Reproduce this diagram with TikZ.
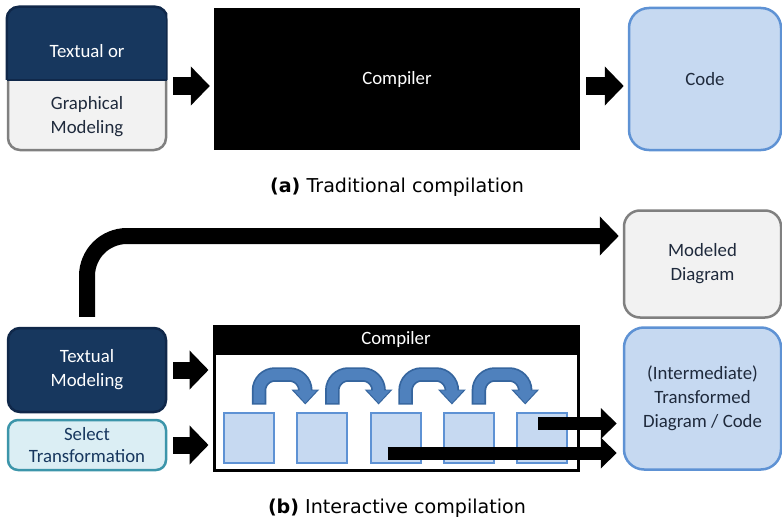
\documentclass[tikz,border=0pt]{standalone}
\usepackage{fontspec}
\setmainfont{Carlito}
\newfontfamily\capfont{DejaVu Sans}
\usetikzlibrary{arrows.meta,positioning}
\definecolor{parNavy}{HTML}{17375E}
\definecolor{parNavyEdge}{HTML}{10284A}
\definecolor{parGrey}{HTML}{F2F2F2}
\definecolor{parGreyEdge}{HTML}{808080}
\definecolor{parSky}{HTML}{C6D9F1}
\definecolor{parSkyEdge}{HTML}{5E92D4}
\definecolor{parIce}{HTML}{DBEEF4}
\definecolor{parIceEdge}{HTML}{3C95AA}
\definecolor{parSteel}{HTML}{4F81BD}
\definecolor{parSteelEdge}{HTML}{35659E}
\definecolor{parInk}{HTML}{1F2A3C}

\begin{document}
\begin{tikzpicture}[x=1pt,y=-1pt,
    every node/.style={font=\fontsize{18.8}{24}\selectfont,align=center,inner sep=0pt},
    box/.style={rounded corners=#1,line width=2.5pt},
    stage/.style={fill=parSky,draw=parSkyEdge,line width=2pt,minimum size=50pt},
    blockarrow/.style={line width=17pt,-{Triangle[length=19pt,width=38pt]},shorten <=6pt,shorten >=4pt},
    outarrow/.style={line width=13pt,-{Triangle[length=16pt,width=30pt]},shorten >=6pt},
    hopedge/.style={parSteelEdge,line width=14.5pt,rounded corners=16pt,-{Triangle[length=15pt,width=27pt]}},
    hop/.style={parSteel,line width=11pt,rounded corners=16pt,-{Triangle[length=12.5pt,width=22pt]},shorten >=1.6pt,shorten <=1.3pt},
    caption/.style={font=\capfont\fontsize{19.1}{23}\selectfont}]
  \useasboundingbox (0,0) rectangle (782,519);

  \node[box=12pt,fill=parGrey,draw=parGreyEdge,minimum width=158pt,minimum height=142pt] (model) at (87,79) {};
  \coordinate (split) at (0,80);
  \begin{scope}
    \clip ([xshift=-3pt,yshift=3pt]model.north west) rectangle (model.east |- split);
    \draw[box=12pt,fill=parNavy,draw=parNavyEdge] (model.south west) rectangle (model.north east);
  \end{scope}
  \draw[parNavyEdge,line width=1.5pt] (model.west |- split) -- (model.east |- split);
  \node[text=white] (modelA) at (87,51) {Textual or};
  \node[text=parInk] (modelB) at (87,117) {Graphical\\Modeling};
  \node[fill=black,text=white,minimum width=366pt,minimum height=142pt] (comp) at (397,79) {Compiler};
  \node[box=20pt,fill=parSky,draw=parSkyEdge,minimum width=152pt,minimum height=142pt,text=parInk] (code) at (705,79) {Code};
  \draw[blockarrow] ([yshift=-7pt]model.east) -- ([yshift=-7pt]comp.west);
  \draw[blockarrow] ([yshift=-7pt]comp.east) -- ([yshift=-7pt]code.west);
  \node[caption] (capA) at (397,187) {\textbf{(a)} Traditional compilation};

  \node[box=16pt,fill=parGrey,draw=parGreyEdge,minimum width=157pt,minimum height=107pt,text=parInk] (modeled) at (702.5,264) {Modeled\\Diagram};
  \node[box=12pt,fill=parNavy,draw=parNavyEdge,minimum width=158pt,minimum height=84pt,text=white] (tm) at (87,370) {Textual\\Modeling};
  \node[box=10pt,fill=parIce,draw=parIceEdge,minimum width=158pt,minimum height=50pt,text=parNavy,font=\fontsize{18.8}{22}\selectfont] (sel) at (87,445) {Select\\Transformation};
  \node[draw=black,line width=3pt,minimum width=364pt,minimum height=144pt] (comp2) at (396,398) {};
  \node[fill=black,text=white,minimum width=364pt,minimum height=30pt,anchor=north] (hdr) at (comp2.north) {Compiler};
  \node[box=20pt,fill=parSky,draw=parSkyEdge,minimum width=157pt,minimum height=142pt,text=parInk] (inter) at (702.5,398.5) {(Intermediate)\\Transformed\\Diagram / Code};

  \foreach \i in {1,...,5}
    \node[stage] (s\i) at ({249+73.3*(\i-1)},437.5) {};
  \foreach \i/\j in {1/2,2/3,3/4,4/5}{
    \draw[hopedge] ([xshift=10pt,yshift=7pt]s\i.north) -- ++(0,-30) -| ([xshift=-17pt,yshift=7pt]s\j.north);
    \draw[hop] ([xshift=10pt,yshift=7pt]s\i.north) -- ++(0,-30) -| ([xshift=-17pt,yshift=7pt]s\j.north);
  }

  \draw[blockarrow] (tm.east) -- (tm.east -| comp2.west);
  \draw[blockarrow] (sel.east) -- (sel.east -| comp2.west);
  \draw[blockarrow,line width=16pt,rounded corners=40pt,shorten <=10pt] (tm.north) |- ([yshift=28pt]modeled.west);
  \coordinate (o1) at ([xshift=-4pt,yshift=14pt]s5.center);
  \coordinate (o2) at ([xshift=-8pt,yshift=-15.5pt]s3.center);
  \draw[outarrow] (o1) -- (o1 -| inter.west);
  \draw[outarrow] (o2) -- (o2 -| inter.west);
  \node[caption] (capB) at (397,508) {\textbf{(b)} Interactive compilation};
\end{tikzpicture}
\end{document}
